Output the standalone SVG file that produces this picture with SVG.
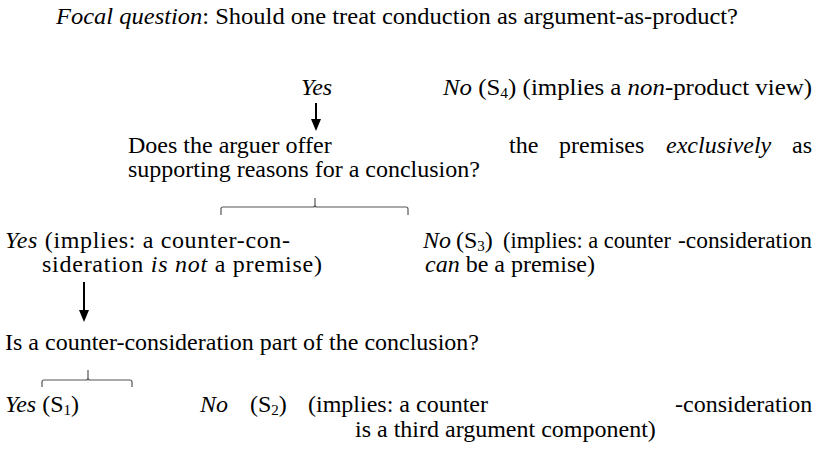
<svg xmlns="http://www.w3.org/2000/svg" width="819" height="455" viewBox="0 0 819 455">
<style>
text{font-size:24px;fill:#000}
.i{font-style:italic}
.sub{font-size:15px}
.arr{stroke:#000;stroke-width:2;fill:none}
.br{stroke:#555;stroke-width:1.2;fill:none}
</style>
<rect width="819" height="455" fill="#fff"/>
<g font-family="Liberation Serif, Times New Roman, serif">
<g id="focal"><text x="56" y="24" textLength="682" lengthAdjust="spacingAndGlyphs"><tspan class="i">Focal question</tspan>: Should one treat conduction as argument-as-product?</text></g>
<g id="yes1"><text x="301" y="95" class="i">Yes</text></g>
<g id="no1"><text x="443" y="95" textLength="369" lengthAdjust="spacingAndGlyphs"><tspan class="i">No</tspan> (S<tspan class="sub" dy="3">4</tspan><tspan dy="-3">) (implies a </tspan><tspan class="i">non</tspan>-product view)</text></g>
<g id="q1">
<text x="128" y="153">Does the arguer offer</text>
<text x="509" y="153">the</text>
<text x="559" y="153">premises</text>
<text x="666" y="153" class="i">exclusively</text>
<text x="792" y="153">as</text>
<text x="128" y="177">supporting reasons for a conclusion?</text>
</g>
<g id="yes2">
<text x="5" y="248" textLength="285" lengthAdjust="spacing"><tspan class="i">Yes</tspan> (implies: a counter-con-</text>
<text x="42" y="272" textLength="280" lengthAdjust="spacing">sideration <tspan class="i">is not</tspan> a premise)</text>
</g>
<g id="no2">
<text x="423" y="248"><tspan class="i">No</tspan><tspan x="456">(S</tspan><tspan class="sub" dy="3">3</tspan><tspan dy="-3">)</tspan><tspan x="503" font-size="22.4">(implies: a counter</tspan></text>
<text x="678" y="248" textLength="134" lengthAdjust="spacingAndGlyphs">-consideration</text>
<text x="425" y="272"><tspan class="i">can</tspan> be a premise)</text>
</g>
<g id="q2"><text x="5" y="350">Is a counter-consideration part of the conclusion?</text></g>
<g id="yes3"><text x="5" y="412"><tspan class="i">Yes</tspan> (S<tspan class="sub" dy="3">1</tspan><tspan dy="-3">)</tspan></text></g>
<g id="no3">
<text x="200" y="412" class="i">No</text>
<text x="250" y="412">(S<tspan class="sub" dy="3">2</tspan><tspan dy="-3">)</tspan></text>
<text x="308" y="412">(implies: a counter</text>
<text x="675" y="412">-consideration</text>
<text x="355" y="437">is a third argument component)</text>
</g>
</g>
<g id="connectors">
<line class="arr" x1="316" y1="103" x2="316" y2="121"/>
<polygon points="311,119 321,119 316,131" fill="#000"/>
<path class="br" d="M221,215 V209 Q221,207 223,207 H313 Q315,207 315,205 V198 M315,205 Q315,207 317,207 H406 Q408,207 408,209 V215"/>
<line class="arr" x1="84" y1="282" x2="84" y2="312"/>
<polygon points="79,310 89,310 84,322" fill="#000"/>
<path class="br" d="M42,387 V382 Q42,380 44,380 H86 Q88,380 88,378 V370 M88,378 Q88,380 90,380 H130 Q132,380 132,382 V387"/>
</g>
</svg>
